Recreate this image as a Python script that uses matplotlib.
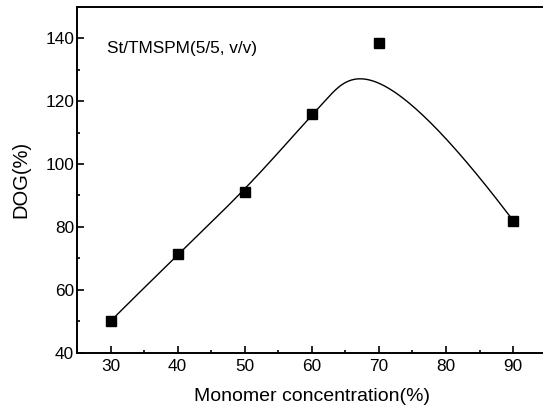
import matplotlib
matplotlib.use("Agg")
import matplotlib.pyplot as plt
import numpy as np
from matplotlib.ticker import MultipleLocator

plt.rcParams["font.family"] = ["Liberation Sans", "DejaVu Sans"]

# data
conc = [30, 40, 50, 60, 70, 90]
dog = [50, 71.3, 91, 116, 138.5, 82]
note = "St/TMSPM(5/5, v/v)"


def bspline(px, py, knots, k=3, n=400):
    # B-spline with the data points as control points (de Boor)
    pts = np.column_stack([px, py]).astype(float)
    t = np.linspace(0, 1, n)
    out = []
    for u in t:
        if u >= 1:
            out.append(pts[-1])
            continue
        s = np.searchsorted(knots, u, side="right") - 1
        d = [pts[j + s - k].copy() for j in range(k + 1)]
        for r in range(1, k + 1):
            for j in range(k, r - 1, -1):
                i = j + s - k
                a = (u - knots[i]) / (knots[i + 1 + k - r] - knots[i])
                d[j] = (1 - a) * d[j - 1] + a * d[j]
        out.append(d[k])
    out = np.array(out)
    return out[:, 0], out[:, 1]


fig = plt.figure(figsize=(5.43, 4.11), dpi=100)
ax = fig.add_axes([0.1418, 0.1423, 0.865, 0.8406])

knots = np.array([0, 0, 0, 0, 0.4, 0.75, 1, 1, 1, 1])
cx, cy = bspline(conc, dog, knots)
ax.plot(cx, cy, "-", color="black", lw=1.0)
ax.plot(conc, dog, "s", color="black", markersize=7.7, zorder=3)

ax.set_xlim(25, 95)
ax.set_ylim(40, 150)
ax.xaxis.set_major_locator(MultipleLocator(10))
ax.xaxis.set_minor_locator(MultipleLocator(5))
ax.yaxis.set_major_locator(MultipleLocator(20))
ax.yaxis.set_minor_locator(MultipleLocator(10))
ax.set_xticks(range(30, 91, 10))

ax.tick_params(which="both", direction="in", top=False, right=False,
               width=1.2, labelsize=12.4)
ax.tick_params(which="major", length=5)
ax.tick_params(which="minor", length=2.5)
ax.tick_params(axis="x", pad=5)
ax.tick_params(axis="y", pad=2)
for sp in ax.spines.values():
    sp.set_linewidth(1.4)

ax.set_xlabel("Monomer concentration(%)", fontsize=14, labelpad=10)
ax.set_ylabel("DOG(%)", fontsize=14.5, labelpad=11)
ax.text(29.4, 136.9, note, fontsize=12.4, va="center", ha="left")

fig.savefig("out.png", dpi=100)
plt.close(fig)
